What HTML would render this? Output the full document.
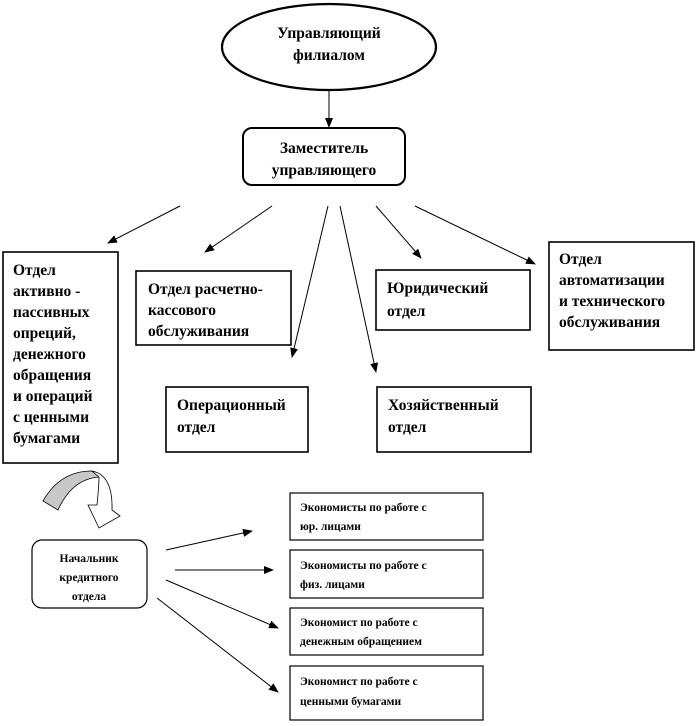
<!DOCTYPE html>
<html><head><meta charset="utf-8"><style>
body{margin:0;background:#fff}
svg{display:block}
text{font-family:"Liberation Serif","DejaVu Serif",serif;font-weight:bold;fill:#000}
.b{font-size:15.5px}
.s{font-size:11.5px}
</style></head><body>
<svg width="698" height="726" viewBox="0 0 698 726" font-family="Liberation Serif, DejaVu Serif, serif">
<defs><marker id="a" markerWidth="10" markerHeight="8" refX="9" refY="4" orient="auto" markerUnits="userSpaceOnUse"><path d="M0,0 L10,4 L0,8z" fill="#000"/></marker></defs>
<g fill="none" stroke="#000" stroke-width="1.2">
<ellipse cx="329" cy="47" rx="107" ry="43" stroke-width="2.2"/>
<rect x="243" y="128" width="162" height="57" rx="9" stroke-width="2"/>
<rect x="3" y="252" width="115" height="211" stroke-width="1.6"/>
<rect x="136" y="271" width="155" height="74" stroke-width="1.6"/>
<rect x="376" y="270" width="154" height="60" stroke-width="1.6"/>
<rect x="549" y="242" width="145" height="108" stroke-width="1.6"/>
<rect x="166" y="387" width="142" height="65" stroke-width="1.6"/>
<rect x="377" y="387" width="154" height="65" stroke-width="1.6"/>
<rect x="32" y="540" width="115" height="68" rx="10"/>
<rect x="290" y="493" width="193" height="47"/>
<rect x="290" y="550" width="193" height="48"/>
<rect x="290" y="608" width="193" height="47"/>
<rect x="290" y="666" width="193" height="54"/>
<g marker-end="url(#a)" stroke-width="1">
<line x1="329" y1="91" x2="329" y2="127"/>
<line x1="180" y1="206" x2="108" y2="243"/>
<line x1="272" y1="206" x2="205" y2="252"/>
<line x1="328" y1="206" x2="292" y2="357"/>
<line x1="340" y1="206" x2="376" y2="372"/>
<line x1="376" y1="206" x2="421" y2="258"/>
<line x1="415" y1="206" x2="535" y2="264"/>
<line x1="166" y1="550" x2="252" y2="531"/>
<line x1="175" y1="570" x2="273" y2="570"/>
<line x1="166" y1="580" x2="278" y2="628"/>
<line x1="157" y1="598" x2="278" y2="692"/>
</g>
</g>
<path d="M43,501 Q60,471 92,471 L99,477 Q72,479 58,510 Z" fill="#c8c8c8" stroke="#000" stroke-width="0.8"/>
<path d="M92,471 Q113,475 112,510 L120,516 L99,528 L88,505 L97,505 Q99,485 99,477 Z" fill="#fff" stroke="#000" stroke-width="0.8"/>
<text class="b" text-anchor="middle"><tspan x="329" y="38">Управляющий</tspan><tspan x="329" y="60">филиалом</tspan></text>
<text class="b" text-anchor="middle"><tspan x="324" y="153">Заместитель</tspan><tspan x="324" y="175">управляющего</tspan></text>
<text class="b"><tspan x="13" y="275">Отдел</tspan><tspan x="13" y="296">активно -</tspan><tspan x="13" y="317">пассивных</tspan><tspan x="13" y="338">опреций,</tspan><tspan x="13" y="359">денежного</tspan><tspan x="13" y="380">обращения</tspan><tspan x="13" y="401">и операций</tspan><tspan x="13" y="422">с ценными</tspan><tspan x="13" y="443">бумагами</tspan></text>
<text class="b"><tspan x="148" y="294">Отдел расчетно-</tspan><tspan x="148" y="315">кассового</tspan><tspan x="148" y="336">обслуживания</tspan></text>
<text class="b"><tspan x="387" y="293">Юридический</tspan><tspan x="387" y="316">отдел</tspan></text>
<text class="b"><tspan x="559" y="264">Отдел</tspan><tspan x="559" y="285">автоматизации</tspan><tspan x="559" y="306">и технического</tspan><tspan x="559" y="327">обслуживания</tspan></text>
<text class="b"><tspan x="177" y="410">Операционный</tspan><tspan x="177" y="432">отдел</tspan></text>
<text class="b"><tspan x="388" y="410">Хозяйственный</tspan><tspan x="388" y="432">отдел</tspan></text>
<text class="s" text-anchor="middle"><tspan x="89" y="562">Начальник</tspan><tspan x="89" y="581">кредитного</tspan><tspan x="89" y="600">отдела</tspan></text>
<text class="s"><tspan x="300" y="511">Экономисты по работе с</tspan><tspan x="300" y="530">юр. лицами</tspan></text>
<text class="s"><tspan x="300" y="569">Экономисты по работе с</tspan><tspan x="300" y="588">физ. лицами</tspan></text>
<text class="s"><tspan x="300" y="626">Экономист по работе с</tspan><tspan x="300" y="645">денежным обращением</tspan></text>
<text class="s"><tspan x="300" y="685">Экономист по работе с</tspan><tspan x="300" y="705">ценными бумагами</tspan></text>
</svg>
</body></html>
